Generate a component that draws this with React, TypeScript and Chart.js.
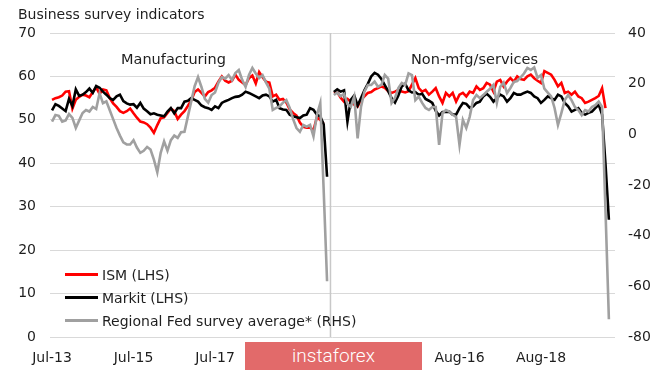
import React, { useEffect, useRef } from "react";
import { Chart, registerables } from "chart.js";

Chart.register(...registerables);

// Manufacturing panel, monthly Jul-13 .. Apr-20 (82 months)
const ismMfg: (number | null)[] = [
  54.6, 55.0, 55.2, 55.6, 56.5, 56.6, 52.6, 54.6, 55.3, 55.8,
  55.6, 55.2, 56.4, 57.5, 56.0, 57.0, 56.8, 55.0, 53.8, 53.0,
  52.0, 51.6, 52.0, 52.6, 51.5, 50.5, 49.6, 49.4, 49.0, 48.2,
  47.0, 48.8, 50.4, 50.6, 51.6, 52.6, 52.0, 50.2, 51.2, 52.0,
  53.2, 54.5, 56.4, 57.0, 56.2, 55.4, 56.4, 56.8, 57.4, 58.8,
  60.0, 59.0, 58.6, 59.0, 60.4, 59.2, 58.6, 58.0, 59.6, 60.2,
  58.4, 61.0, 59.8, 58.8, 58.6, 55.4, 55.8, 54.6, 54.8, 54.0,
  52.4, 51.6, 51.0, 49.4, 48.4, 48.2, 48.2, 47.6, 50.6, 50.0,
  49.1, null,
];
const markitMfg: (number | null)[] = [
  52.2, 53.6, 53.2, 52.6, 52.0, 54.8, 53.2, 57.0, 55.5, 55.8,
  56.4, 57.2, 56.2, 57.8, 57.4, 56.5, 55.8, 55.0, 54.6, 55.4,
  55.8, 54.3, 53.8, 53.5, 53.6, 52.8, 53.9, 52.6, 52.0, 51.3,
  51.5, 51.2, 51.0, 50.8, 51.9, 52.7, 51.5, 52.7, 52.7, 54.2,
  54.4, 55.0, 54.6, 54.2, 53.3, 52.9, 52.7, 52.3, 53.1, 52.7,
  53.9, 54.3, 54.6, 55.0, 55.3, 55.4, 55.8, 56.5, 56.2, 55.8,
  55.4, 55.0, 55.6, 55.8, 55.4, 54.2, 54.6, 52.7, 52.4, 52.3,
  51.2, 50.8, 50.6, 50.4, 51.0, 51.2, 52.7, 52.3, 51.2, 50.8,
  49.0, 36.9,
];
const fedMfg: (number | null)[] = [
  5.0, 7.6, 7.3, 5.0, 5.5, 8.0, 6.5, 2.5, 5.5, 8.4,
  9.6, 9.0, 10.8, 10.0, 16.2, 12.3, 13.0, 9.5, 6.0, 2.5,
  -0.5, -3.2, -4.0, -4.0, -2.3, -5.2, -7.3, -6.5, -5.0, -6.0,
  -10.0, -15.0, -7.3, -2.8, -6.5, -2.3, -0.5, -1.4, 0.8, 1.0,
  7.0, 13.0, 19.0, 22.6, 18.7, 14.0, 12.5, 15.5, 16.5, 20.3,
  22.6, 22.0, 23.4, 21.4, 24.2, 25.4, 21.5, 18.7, 23.4, 26.2,
  24.0, 22.2, 23.4, 20.5, 18.0, 9.6, 10.4, 11.0, 12.5, 13.5,
  10.4, 6.0, 2.5, 1.0, 3.7, 3.0, 3.7, -0.8, 7.6, 12.3,
  -22.0, -58.0,
];

// Non-mfg/services panel, monthly Jul-13 .. Apr-20 (82 months)
const ismSrv: (number | null)[] = [
  56.2, 56.4, 55.1, 54.2, 54.8, 54.2, 53.5, 53.1, 54.6, 55.4,
  56.2, 56.4, 57.0, 57.3, 57.7, 57.4, 56.6, 56.2, 56.5, 56.9,
  56.5, 56.3, 56.6, 58.1, 59.6, 57.3, 56.5, 56.9, 55.8, 56.5,
  57.3, 55.4, 53.9, 56.2, 55.4, 56.2, 54.2, 55.8, 56.2, 55.4,
  56.5, 56.2, 57.7, 56.9, 57.3, 58.5, 58.1, 56.5, 58.8, 59.2,
  57.7, 58.8, 59.6, 58.8, 60.0, 59.4, 59.2, 60.0, 60.4, 59.6,
  59.0, 58.5, 61.2, 60.8, 60.4, 59.2, 57.7, 58.5, 56.2, 56.5,
  55.8, 56.5, 55.4, 55.0, 53.9, 54.2, 54.6, 55.0, 55.5, 57.3,
  52.7, null,
];
const markitSrv: (number | null)[] = [
  56.4, 57.0, 56.5, 56.8, 49.6, 54.6, 55.6, 53.3, 55.0, 56.8,
  58.3, 60.0, 60.8, 60.4, 59.4, 58.0, 56.6, 55.0, 54.0, 55.6,
  57.7, 58.3, 56.8, 56.3, 56.4, 55.8, 56.0, 54.8, 54.4, 53.9,
  52.1, 51.0, 51.8, 51.8, 51.9, 51.2, 51.2, 52.7, 53.9, 53.7,
  52.8, 53.1, 53.9, 54.2, 55.4, 56.0, 55.3, 54.2, 55.0, 55.8,
  55.4, 54.2, 55.0, 56.2, 55.8, 55.8, 56.2, 56.5, 56.2, 55.4,
  55.0, 53.9, 54.6, 55.4, 55.0, 54.6, 55.8, 55.4, 53.9, 53.1,
  51.9, 52.3, 52.7, 51.6, 51.2, 51.6, 51.9, 52.7, 53.5, 51.2,
  39.8, 27.0,
];
const fedSrv: (number | null)[] = [
  15.5, 16.5, 15.0, 16.0, 12.0, 10.9, 14.9, -1.6, 10.9, 16.8,
  19.5, 19.5, 20.8, 18.8, 19.5, 23.4, 22.0, 12.4, 14.4, 18.3,
  20.3, 19.5, 24.1, 23.4, 13.5, 14.9, 12.4, 10.4, 9.6, 10.8,
  10.8, -4.2, 8.4, 9.6, 9.0, 7.7, 6.9, -4.2, 5.7, 2.5,
  6.9, 13.5, 15.5, 14.3, 15.5, 16.8, 18.0, 19.5, 12.4, 18.8,
  20.5, 16.3, 18.3, 20.7, 21.0, 22.5, 24.0, 26.2, 25.4, 26.4,
  22.3, 23.4, 18.0, 16.5, 15.0, 10.4, 3.7, 8.4, 13.5, 15.5,
  13.5, 10.8, 9.6, 7.6, 9.6, 9.0, 10.8, 11.5, 12.9, 10.8,
  -30.0, -73.0,
];

// Category positions on the shared time axis
const mfgStart = 0;
const srvStart = 83;
const separatorPos = 82;
const tickPositions = [0, 24, 48, 120, 144];
const tickLabels = ["Jul-13", "Jul-15", "Jul-17", "Aug-16", "Aug-18"];
const leftTicks = [0, 10, 20, 30, 40, 50, 60, 70];
const rightTicks = [-80, -60, -40, -20, 0, 20, 40];

const legendItems = [
  { label: "ISM (LHS)", color: "#ff0000" },
  { label: "Markit (LHS)", color: "#000000" },
  { label: "Regional Fed survey average* (RHS)", color: "#a0a0a0" },
];

const FONT = '"DejaVu Sans", Verdana, sans-serif';
const TEXT = "#1e1e1e";

export default function App() {
  const ref = useRef<HTMLCanvasElement>(null);

  useEffect(() => {
    const pts = (vals: (number | null)[], start: number) =>
      vals.map((v, i) => ({ x: start + i, y: v }));
    const line = (data: any, color: string, axis: string, order: number) => ({
      data,
      borderColor: color,
      backgroundColor: color,
      borderWidth: 2.6,
      yAxisID: axis,
      order,
      pointRadius: 0,
      tension: 0,
      spanGaps: false,
    });
    const chart = new Chart(ref.current as HTMLCanvasElement, {
      type: "line",
      data: {
        datasets: [
          line(pts(fedMfg, mfgStart), "#a0a0a0", "y1", 1),
          line(pts(markitMfg, mfgStart), "#000000", "y", 2),
          line(pts(ismMfg, mfgStart), "#ff0000", "y", 3),
          line(pts(fedSrv, srvStart), "#a0a0a0", "y1", 1),
          line(pts(markitSrv, srvStart), "#000000", "y", 2),
          line(pts(ismSrv, srvStart), "#ff0000", "y", 3),
          {
            ...line(
              [
                { x: separatorPos, y: leftTicks[0] },
                { x: separatorPos, y: leftTicks[leftTicks.length - 1] },
              ],
              "#c8c8c8",
              "y",
              5
            ),
            borderWidth: 1.5,
          },
        ],
      },
      options: {
        responsive: false,
        animation: false,
        layout: { padding: { top: 33, left: 0, right: 0, bottom: 0 } },
        plugins: { legend: { display: false }, tooltip: { enabled: false } },
        scales: {
          x: {
            type: "linear",
            min: -0.6,
            max: 165.8,
            grid: { display: false, drawTicks: false },
            border: { display: false },
            afterBuildTicks: (s: any) => {
              s.ticks = tickPositions.map((v) => ({ value: v }));
            },
            afterFit: (s: any) => {
              s.height = 35;
            },
            ticks: {
              autoSkip: false,
              maxRotation: 0,
              padding: 13,
              color: TEXT,
              font: { family: FONT, size: 14 },
              callback: (v: any) => {
                const k = tickPositions.indexOf(Number(v));
                return k >= 0 ? tickLabels[k] : "";
              },
            },
          },
          y: {
            position: "left",
            min: 0,
            max: 70,
            afterBuildTicks: (s: any) => {
              s.ticks = leftTicks.map((v) => ({ value: v }));
            },
            afterFit: (s: any) => {
              s.width = 50;
            },
            grid: { color: "#d9d9d9", lineWidth: 1, drawTicks: false },
            border: { display: false },
            ticks: { padding: 14, color: TEXT, font: { family: FONT, size: 14 } },
          },
          y1: {
            position: "right",
            min: -80,
            max: 40,
            afterBuildTicks: (s: any) => {
              s.ticks = rightTicks.map((v) => ({ value: v }));
            },
            afterFit: (s: any) => {
              s.width = 50;
            },
            grid: { drawOnChartArea: false, drawTicks: false },
            border: { display: false },
            ticks: { padding: 13, color: TEXT, font: { family: FONT, size: 14 } },
          },
        },
      },
    } as any);
    return () => chart.destroy();
  }, []);

  return (
    <div
      style={{
        position: "absolute",
        left: 0,
        top: 0,
        width: 665,
        height: 372,
        background: "#ffffff",
        fontFamily: FONT,
        color: TEXT,
        overflow: "hidden",
      }}
    >
      <canvas
        ref={ref}
        width={665}
        height={372}
        style={{ position: "absolute", left: 0, top: 0, width: 665, height: 372 }}
      />
      <div style={{ position: "absolute", left: 18, top: 7, fontSize: 14, lineHeight: 1, whiteSpace: "nowrap" }}>
        Business survey indicators
      </div>
      <div style={{ position: "absolute", left: 121, top: 52, fontSize: 14.5, lineHeight: 1, whiteSpace: "nowrap" }}>
        Manufacturing
      </div>
      <div style={{ position: "absolute", left: 411, top: 52, fontSize: 14.5, lineHeight: 1, whiteSpace: "nowrap" }}>
        Non-mfg/services
      </div>
      {legendItems.map((it, k) => (
        <div key={it.label}>
          <div
            style={{
              position: "absolute",
              left: 65,
              top: 272.5 + k * 23.4,
              width: 33,
              height: 3,
              background: it.color,
            }}
          />
          <div
            style={{
              position: "absolute",
              left: 102,
              top: 267.5 + k * 23.4,
              fontSize: 14,
              lineHeight: 1,
              whiteSpace: "nowrap",
            }}
          >
            {it.label}
          </div>
        </div>
      ))}
      <div
        style={{
          position: "absolute",
          left: 245,
          top: 342,
          width: 177,
          height: 28,
          background: "#e26a6a",
          color: "#ffffff",
          fontFamily: "Roboto, sans-serif",
          fontWeight: 300,
          fontSize: 19,
          lineHeight: "28px",
          textAlign: "center",
        }}
      >
        instaforex
      </div>
    </div>
  );
}
